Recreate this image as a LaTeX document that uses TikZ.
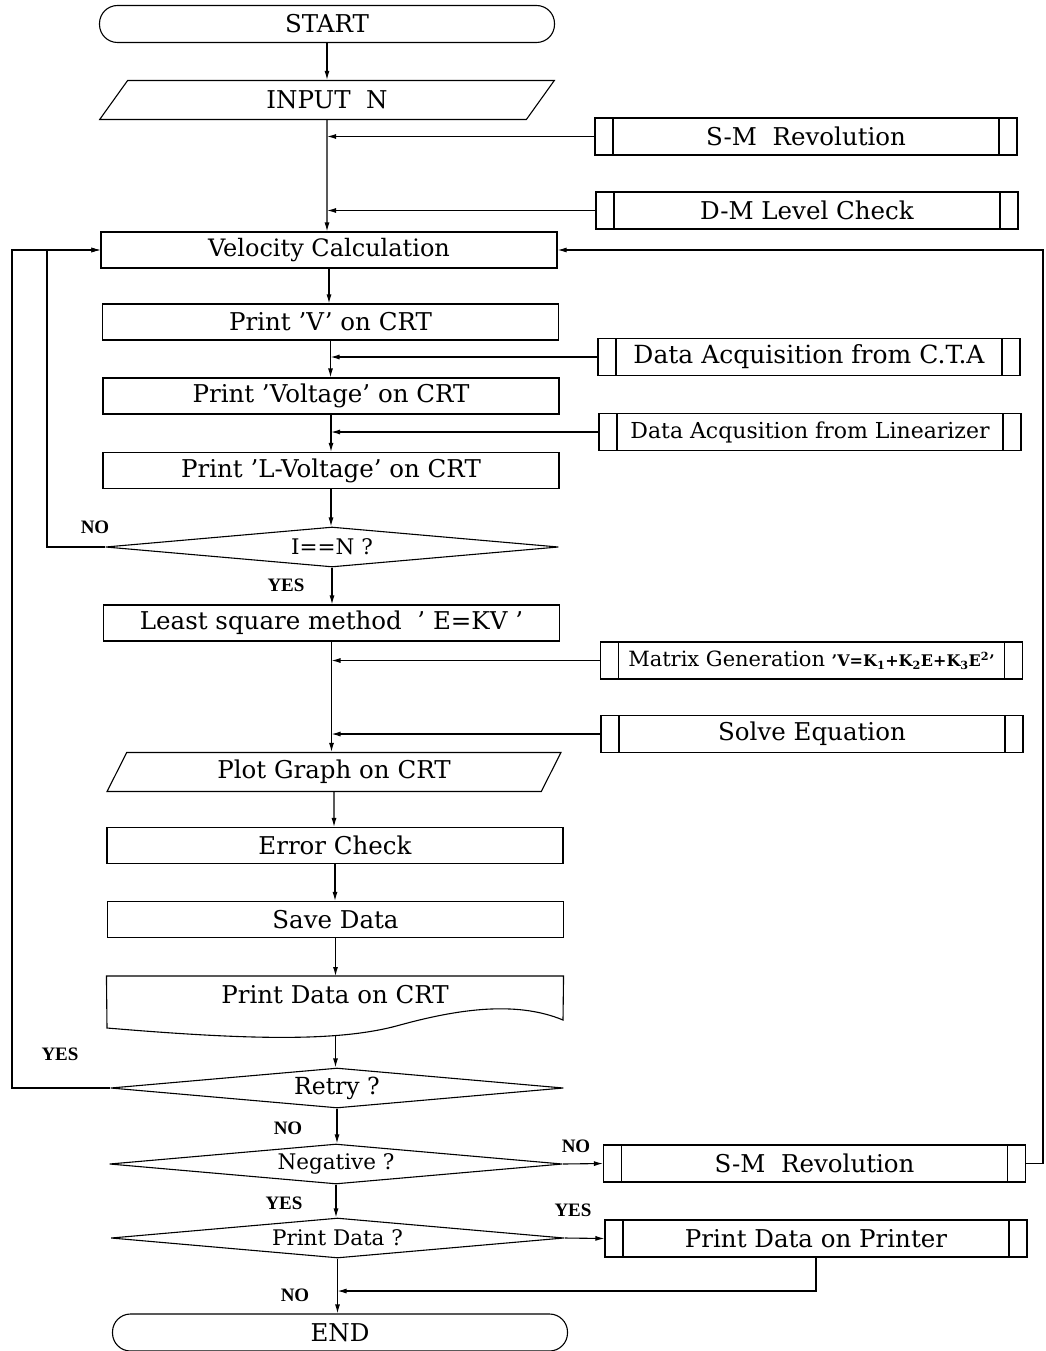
\documentclass[tikz,border=0pt]{standalone}
\usepackage{fontspec}
\setmainfont{DejaVu Serif}
\newfontfamily\labfont{Liberation Serif}
\usetikzlibrary{shapes.geometric,arrows.meta}
\begin{document}
\begin{tikzpicture}[x=1pt,y=-1pt, line width=1.1pt,
  >={Latex[length=9pt,width=5pt]},
  every node/.style={font=\fontsize{24.5}{28}\selectfont},
  proc/.style={draw, rectangle, minimum width=456, minimum height=36, inner sep=0},
  term/.style={draw, rectangle, rounded corners=18, minimum width=455, minimum height=37, inner sep=0},
  io/.style={draw, trapezium, trapezium left angle=65, trapezium right angle=115,
    trapezium stretches=true, minimum width=455, minimum height=39, inner sep=0},
  dec/.style={draw, diamond, minimum width=453, minimum height=40, inner sep=0, aspect=11,
    font=\fontsize{21.5}{25}\selectfont},
  sub/.style={draw, rectangle, minimum width=422, minimum height=37, inner sep=0,
    path picture={\draw[line width=1.1pt]
      ([xshift=18pt]path picture bounding box.north west) -- ([xshift=18pt]path picture bounding box.south west)
      ([xshift=-18pt]path picture bounding box.north east) -- ([xshift=-18pt]path picture bounding box.south east);}},
  lab/.style={font=\fontsize{19}{21}\selectfont\labfont\bfseries, inner sep=0}
]
\useasboundingbox (0,0) rectangle (1045,1351);

% main column
\node[term] (start) at (327,24) {START};
\node[io] (inp) at (327,100) {INPUT\ \ N};
\node[sub] (sm1) at (806,136.5) {S-M\ \ Revolution};
\node[sub] (dm) at (807,210.5) {D-M Level Check};
\node[proc, font=\fontsize{24}{28}\selectfont] (vel) at (329,250) {Velocity Calculation};
\node[proc] (pv) at (330.5,322) {Print 'V' on CRT};
\node[sub, font=\fontsize{25}{29}\selectfont] (cta) at (809,357) {Data Acquisition from C.T.A};
\node[proc] (pvol) at (331,396) {Print 'Voltage' on CRT};
\node[sub, font=\fontsize{22}{26}\selectfont] (lin) at (810,432) {Data Acqusition from Linearizer};
\node[proc] (plv) at (331,470.5) {Print 'L-Voltage' on CRT};
\node[dec] (d1) at (332,547) {I==N ?};
\node[proc] (lsm) at (331.5,623) {Least square method\ \ ' E=KV '};
\node[sub, font=\fontsize{21}{25}\selectfont] (mg) at (811.5,660.5) {Matrix Generation {\fontsize{16}{18}\selectfont\bfseries 'V=K\textsubscript{1}+K\textsubscript{2}E+K\textsubscript{3}E\textsuperscript{2}'}};
\node[sub] (se) at (812,734) {Solve Equation};
\node[io] (plot) at (334,772) {Plot Graph on CRT};
\node[proc] (ec) at (335,845.5) {Error Check};
\node[proc] (sd) at (335.5,919.5) {Save Data};
\node[minimum width=456, minimum height=60, inner sep=0, anchor=north] (pdc) at (335,976) {};
\node (pdct) at (335,995) {Print Data on CRT};
\draw (pdc.north west) -- (pdc.north east) -- (563,1020)
  .. controls (515,1000) and (455,1010) .. (400,1025)
  .. controls (340,1042) and (250,1040) .. (107,1028) -- cycle;
\coordinate (pdcb) at (335.5,1036);
\node[dec, font=\fontsize{23.5}{27}\selectfont] (retry) at (337,1088) {Retry ?};
\node[dec] (neg) at (336,1164) {Negative ?};
\node[sub] (sm2) at (814.5,1163.5) {S-M\ \ Revolution};
\node[dec] (pd) at (337.5,1238) {Print Data ?};
\node[sub] (pp) at (816,1238.5) {Print Data on Printer};
\node[term] (end) at (340,1332.5) {END};

% main flow
\draw[->] (start) -- (start |- inp.north);
\draw[->] (inp) -- (inp |- vel.north);
\draw[->] (vel) -- (vel |- pv.north);
\draw[->] (pv) -- (pv |- pvol.north);
\draw[->] (pvol) -- (pvol |- plv.north);
\draw[->] (plv) -- (plv |- d1.north);
\draw[->] (d1) -- (d1 |- lsm.north);
\draw[->] (lsm) -- (lsm |- plot.north);
\draw[->] (plot) -- (plot |- ec.north);
\draw[->] (ec) -- (ec |- sd.north);
\draw[->] (sd) -- (sd |- pdc.north);
\draw[->] (pdcb) -- (pdcb |- retry.north);
\draw[->] (retry) -- (retry |- neg.north);
\draw[->] (neg) -- (neg |- pd.north);
\draw[->] (pd) -- (pd |- end.north);

% side inputs
\draw[->] (sm1) -- (sm1 -| inp.south);
\draw[->] (dm) -- (dm -| inp.south);
\draw[->] (cta) -- (cta -| pv.south);
\draw[->] (lin) -- (lin -| pvol.south);
\draw[->] (mg) -- (mg -| lsm.south);
\draw[->] (se) -- (se -| lsm.south);

% loops
\coordinate (nox) at (47,0);
\coordinate (yx) at (12,0);
\coordinate (rx) at (1043,0);
\draw[->] (d1.west) -| (nox |- vel.west) -- (vel.west);
\draw[->] (retry.west) -| (yx |- vel.west) -- (vel.west);
\draw[->] (sm2.east) -| (rx |- vel.east) -- (vel.east);
\draw[->] (neg.east) -- (sm2.west);
\draw[->] (pd.east) -- (pp.west);
\coordinate (pr) at (816,1291);
\draw[->] (pp.south) -- (pr) -- (pr -| pd.south);

% labels
\node[lab] (no1) at (95,527) {NO};
\node[lab] (yes1) at (286,585) {YES};
\node[lab] (yes2) at (60,1054) {YES};
\node[lab] (no2) at (288,1128) {NO};
\node[lab] (no3) at (576,1146) {NO};
\node[lab] (yes3) at (284,1203) {YES};
\node[lab] (yes4) at (573,1210) {YES};
\node[lab] (no4) at (295,1295) {NO};
\end{tikzpicture}
\end{document}
